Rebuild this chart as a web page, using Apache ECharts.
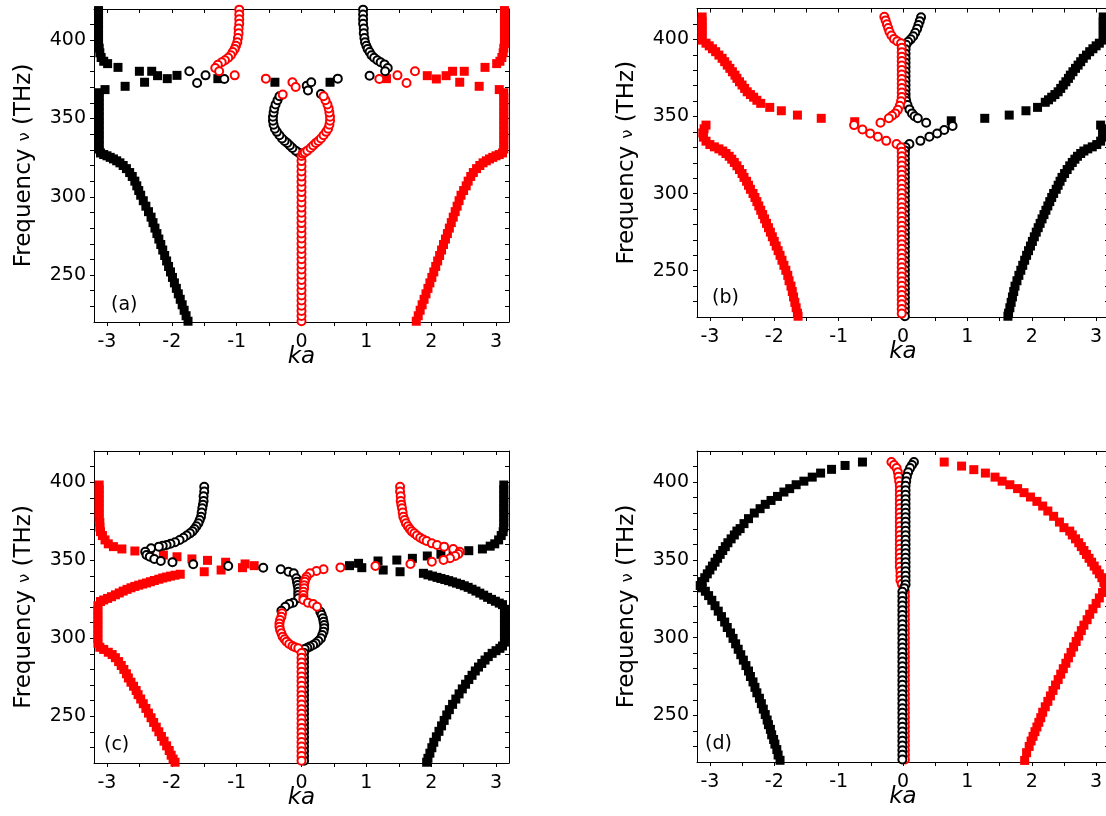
<!DOCTYPE html>
<html>
<head>
<meta charset="utf-8">
<title>Dispersion ka - frequency</title>
<style>
    html, body { margin: 0; padding: 0; background: #fff; }
    #main { width: 1106px; height: 816px; }
</style>
</head>
<body>
<div id="main"></div>
<script src="https://cdn.jsdelivr.net/npm/echarts@6/dist/echarts.min.js"></script>
<script>
// tick positions and labels (same for all four panels)
var xTicks = [-3, -2.5, -2, -1.5, -1, -0.5, 0, 0.5, 1, 1.5, 2, 2.5, 3];
var xLabels = [-3, -2, -1, 0, 1, 2, 3];
var yTicks = [230, 240, 250, 260, 270, 280, 290, 300, 310, 320, 330, 340, 350, 360, 370, 380, 390, 400, 410];
var yLabels = [250, 300, 350, 400];
var panelNames = ['(a)', '(b)', '(c)', '(d)'];

// ---- panel (a) ----  [ka, frequency THz]
var aBlackSq = [
    [-1.75,220.5],[-1.78,224],[-1.81,227.5],[-1.84,231],[-1.87,234.5],[-1.90,238],[-1.93,241.5],[-1.96,245],[-1.99,248.5],[-2.02,252],
    [-2.05,255.5],[-2.08,259],[-2.11,262.5],[-2.14,266],[-2.17,269.5],[-2.20,273],[-2.23,276.5],[-2.26,280],[-2.29,283.5],[-2.32,287],
    [-2.36,290.5],[-2.40,294],[-2.44,297.5],[-2.48,301],[-2.51,304],[-2.54,307],[-2.57,310],[-2.61,313],[-2.65,315.5],[-2.70,318],
    [-2.75,320],[-2.80,321.7],[-2.85,323],[-2.90,324.2],[-2.95,325.2],[-3.00,326.2],[-3.05,327],[-3.10,328],
    [-3.12,330.5],[-3.12,333.5],[-3.12,336.5],[-3.12,339.5],[-3.12,342.5],[-3.12,345.5],[-3.12,348.5],[-3.12,351.5],[-3.12,354.5],
    [-3.12,357.5],[-3.12,360.5],[-3.12,363.5],[-3.12,366.5],
    [-3.03,368.5],[-2.72,370.6],[-2.42,373.2],[-2.83,382.7],[-2.50,380.2],[-2.31,380.2],[-2.22,377.4],[-2.07,375.5],[-1.92,377.6],
    [-1.29,375.5],[-0.41,373.2],[0.44,373.2],
    [-2.99,385.1],[-3.05,386.6],[-3.09,389],[-3.11,392],[-3.12,395],[-3.13,398],[-3.13,401],[-3.13,404],[-3.13,407],[-3.13,410],
    [-3.13,413],[-3.13,416],[-3.13,419]
];
var aRedSq = [
    [1.77,220.5],[1.80,224],[1.83,227.5],[1.86,231],[1.89,234.5],[1.92,238],[1.95,241.5],[1.98,245],[2.01,248.5],[2.04,252],
    [2.07,255.5],[2.10,259],[2.13,262.5],[2.16,266],[2.19,269.5],[2.22,273],[2.25,276.5],[2.28,280],[2.31,283.5],[2.34,287],
    [2.37,290.5],[2.40,294],[2.43,297.5],[2.46,301],[2.50,304],[2.54,307],[2.57,310],[2.61,313],[2.65,315.5],[2.70,318],
    [2.75,320],[2.80,321.7],[2.85,323],[2.90,324.2],[2.95,325.2],[3.00,326.2],[3.05,327],[3.10,328],
    [3.12,330.5],[3.12,333.5],[3.12,336.5],[3.12,339.5],[3.12,342.5],[3.12,345.5],[3.12,348.5],[3.12,351.5],[3.12,354.5],
    [3.12,357.5],[3.12,360.5],[3.12,363.5],[3.12,366.5],
    [3.05,368.5],[2.74,370.6],[2.44,373.2],[2.83,382.7],[2.51,380.2],[2.33,380.2],[2.23,377.4],[2.08,375.3],[1.94,377.4],
    [1.31,375.5],
    [3.01,385.1],[3.06,386.6],[3.09,389],[3.11,392],[3.12,395],[3.13,398],[3.13,401],[3.13,404],[3.13,407],[3.13,410],
    [3.13,413],[3.13,416],[3.13,419]
];
var aBlackCirc = [
    [-0.02,327.6],[-0.05,328.3],[-0.09,329.5],[-0.14,331.2],[-0.18,332.8],[-0.22,334.4],[-0.26,335.6],[-0.30,337.2],[-0.34,339.3],
    [-0.38,341.5],[-0.41,343.5],[-0.43,346],[-0.44,348.6],[-0.44,351.2],[-0.43,353.8],[-0.42,356.4],[-0.40,359],[-0.37,361.7],[-0.34,364.2],
    [0.08,371.0],[0.10,368.0],[0.15,373.2],[0.30,365.7],[0.56,375.5],
    [-1.73,380.2],[-1.61,372.7],[-1.48,377.6],[-1.19,375.3],[1.05,377.4],
    [0.95,419.6],[0.95,416.5],[0.95,413.5],[0.95,410.5],[0.96,407.5],[0.96,404.5],[0.97,401.5],[0.98,398.7],[1.00,396.5],[1.02,394.5],
    [1.05,392.5],[1.08,390.5],[1.12,388.8],[1.17,387.3],[1.22,386],[1.28,384.6],[1.33,382.3],[1.29,380.2]
];
var aRedCirc = [
    [0,220.5],[0,223.8],[0,227.1],[0,230.4],[0,233.7],[0,237.0],[0,240.3],[0,243.6],[0,246.9],[0,250.2],[0,253.5],
    [0,256.8],[0,260.1],[0,263.4],[0,266.7],[0,270.0],[0,273.3],[0,276.6],[0,279.9],[0,283.2],[0,286.5],[0,289.8],
    [0,293.1],[0,296.4],[0,299.7],[0,303.0],[0,306.3],[0,309.6],[0,312.9],[0,316.2],[0,319.5],[0,322.8],[0,326.1],
    [0.02,327.6],[0.05,328.3],[0.09,329.5],[0.14,331.2],[0.18,332.8],[0.22,334.4],[0.26,335.6],[0.30,337.2],[0.34,339.3],
    [0.38,341.5],[0.41,343.5],[0.43,346],[0.44,348.6],[0.44,351.2],[0.43,353.8],[0.42,356.4],[0.40,359],[0.37,361.7],[0.34,364.2],
    [-0.29,365.3],[-0.14,373.2],[-0.09,370.2],[-0.55,375.5],[-1.03,377.6],
    [1.20,375.3],[1.48,377.6],[1.62,372.7],[1.75,380.2],
    [-0.96,419.6],[-0.96,416.5],[-0.96,413.5],[-0.96,410.5],[-0.97,407.5],[-0.97,404.5],[-0.98,401.5],[-0.99,398.7],[-1.01,396.5],
    [-1.03,394.5],[-1.06,392.5],[-1.09,390.5],[-1.13,388.8],[-1.18,387.3],[-1.23,386],[-1.29,384.4],[-1.33,382.3],[-1.27,380.2]
];

// ---- panel (b) ----
var bRedSq = [
    [-3.12,414.5],[-3.12,411.5],[-3.12,408.5],[-3.12,405.5],[-3.12,402.5],[-3.12,399.5],[-3.06,397.5],[-3.01,395.8],[-2.96,393.9],
    [-2.91,392],[-2.86,389.8],[-2.81,387.7],[-2.77,385.5],[-2.73,383.3],[-2.69,381.2],[-2.65,379],[-2.61,376.8],[-2.58,374.7],
    [-2.54,372.5],[-2.50,370.4],[-2.46,368.2],[-2.42,366],[-2.37,364.2],[-2.32,362.5],[-2.27,360.5],[-2.21,358.5],
    [-2.07,355.9],[-1.89,353.7],[-1.64,350.9],[-1.27,348.8],[-0.75,346.6],
    [-3.06,344.4],[-3.09,342],[-3.11,339.3],[-3.10,336.6],[-3.06,334],[-3.00,331.8],[-2.93,330.3],[-2.86,329],[-2.80,327.6],
    [-2.75,326],[-2.70,324.2],[-2.66,322.3],[-2.62,320.2],[-2.58,318],[-2.54,315.6],[-2.50,313],[-2.47,310.5],[-2.43,308],
    [-2.40,305.4],[-2.37,302.8],[-2.33,300.1],[-2.30,297.5],[-2.27,294.8],[-2.24,292],[-2.21,289.2],[-2.18,286.4],[-2.15,283.6],
    [-2.12,280.7],[-2.09,277.9],[-2.06,275],[-2.03,272],[-2.00,269],[-1.97,266],[-1.94,263],[-1.91,260],[-1.88,256.8],
    [-1.85,253.5],[-1.82,250.3],[-1.79,247],[-1.77,243.5],[-1.74,240],[-1.72,236.5],[-1.70,233],[-1.68,229.5],[-1.66,226],
    [-1.64,222.5],[-1.63,220.5]
];
var bBlackSq = [
    [3.11,414.5],[3.11,411.5],[3.11,408.5],[3.11,405.5],[3.11,402.5],[3.11,399.5],[3.05,397.5],[3.00,395.8],[2.95,393.9],
    [2.90,392],[2.85,389.8],[2.80,387.7],[2.76,385.5],[2.72,383.3],[2.68,381.2],[2.64,379],[2.60,376.8],[2.57,374.7],
    [2.53,372.5],[2.49,370.4],[2.45,368.2],[2.41,366],[2.36,364.2],[2.31,362.5],[2.26,360.8],[2.21,359.2],
    [2.09,355.9],[1.91,353.7],[1.65,350.9],[1.27,348.8],[0.75,347.2],
    [3.07,344.4],[3.10,342],[3.11,339.3],[3.10,336.6],[3.07,334],[3.01,331.8],[2.94,330.3],[2.87,329],[2.81,327.6],
    [2.76,326],[2.71,324.2],[2.67,322.3],[2.63,320.2],[2.59,318],[2.55,315.6],[2.51,313],[2.47,310.5],[2.44,308],
    [2.41,305.4],[2.38,302.8],[2.34,300.1],[2.31,297.5],[2.28,294.8],[2.25,292],[2.22,289.2],[2.19,286.4],[2.16,283.6],
    [2.13,280.7],[2.10,277.9],[2.07,275],[2.04,272],[2.01,269],[1.98,266],[1.95,263],[1.92,260],[1.89,256.8],
    [1.86,253.5],[1.83,250.3],[1.80,247],[1.77,243.5],[1.74,240],[1.72,236.5],[1.70,233],[1.68,229.5],[1.66,226],
    [1.64,222.5],[1.63,220.5]
];
var bBlackCirc = [
    [0.28,414.3],[0.26,411.8],[0.24,409.3],[0.22,406.8],[0.19,404.3],[0.16,402],[0.12,400],[0.08,398.4],[0.05,396.5],
    [0.04,393.6],[0.04,390.7],[0.04,387.8],[0.04,384.9],[0.04,382],[0.04,379.1],[0.04,376.2],[0.04,373.3],[0.04,370.4],
    [0.04,367.5],[0.04,364.6],[0.04,362.2],[0.05,360],[0.07,357.4],[0.10,354.6],[0.14,352],[0.18,350.2],[0.23,348.8],[0.36,345.9],
    [0.77,343.8],[0.64,341.2],[0.53,339],[0.41,336.8],[0.27,334.2],[0.10,332.1],[0.04,330],
    [0.03,328.0],[0.03,325.5],[0.03,322.5],[0.03,319.5],[0.03,316.5],[0.03,313.5],[0.03,310.5],[0.03,307.5],[0.03,304.5],
    [0.03,301.5],[0.03,298.5],[0.03,295.5],[0.03,292.5],[0.03,289.5],[0.03,286.5],[0.03,283.5],[0.03,280.5],[0.03,277.5],
    [0.03,274.5],[0.03,271.5],[0.03,268.5],[0.03,265.5],[0.03,262.5],[0.03,259.5],[0.03,256.5],[0.03,253.5],[0.03,250.5],
    [0.03,247.5],[0.03,244.5],[0.03,241.5],[0.03,238.5],[0.03,235.5],[0.03,232.5],[0.03,229.5],[0.03,226.5],[0.03,223.5],[0.03,220.5]
];
var bRedCirc = [
    [-0.29,414.7],[-0.27,412.3],[-0.25,409.8],[-0.23,407.3],[-0.21,404.9],[-0.18,402.5],[-0.14,400.3],[-0.09,398.8],[-0.03,397.5],
    [-0.02,394.6],[-0.02,391.7],[-0.02,388.8],[-0.02,385.9],[-0.02,383],[-0.02,380.1],[-0.02,377.2],[-0.02,374.3],[-0.02,371.4],
    [-0.02,368.5],[-0.02,365.6],[-0.02,362.7],[-0.03,359.8],[-0.05,357],[-0.08,354.3],[-0.12,352],[-0.17,350.5],[-0.22,348.9],[-0.35,345.9],
    [-0.76,344.4],[-0.63,341.6],[-0.51,339],[-0.39,336.8],[-0.26,334.2],[-0.10,332.1],[-0.03,330.1],
    [-0.02,327.2],[-0.02,324.2],[-0.02,321.2],[-0.02,318.2],[-0.02,315.2],[-0.02,312.2],[-0.02,309.2],[-0.02,306.2],[-0.02,303.2],
    [-0.02,300.2],[-0.02,297.2],[-0.02,294.2],[-0.02,291.2],[-0.02,288.2],[-0.02,285.2],[-0.02,282.2],[-0.02,279.2],[-0.02,276.2],
    [-0.02,273.2],[-0.02,270.2],[-0.02,267.2],[-0.02,264.2],[-0.02,261.2],[-0.02,258.2],[-0.02,255.2],[-0.02,252.2],[-0.02,249.2],
    [-0.02,246.2],[-0.02,243.2],[-0.02,240.2],[-0.02,237.2],[-0.02,234.2],[-0.02,231.2],[-0.02,228.2],[-0.02,225.2],[-0.02,222.2]
];

// ---- panel (c) ----
var cRedSq = [
    [-3.12,398.2],[-3.12,395.2],[-3.12,392.2],[-3.12,389.2],[-3.12,386.2],[-3.12,383.2],[-3.12,380.2],[-3.12,377.2],[-3.11,374.2],
    [-3.11,371.2],[-3.10,368.3],[-3.07,365.8],[-3.03,363],[-2.98,360.5],[-2.90,358.7],[-2.77,357.2],
    [-2.57,355.9],[-2.34,354.8],[-2.13,353.3],[-1.92,352.2],[-1.69,350.8],[-1.45,349.9],[-1.17,348.7],[-0.87,347.6],[-0.73,346.5],
    [-1.50,342.6],[-1.24,343.7],[-0.91,345.2],
    [-1.87,341.0],[-1.95,340.4],[-2.02,339.8],[-2.08,339.2],[-2.14,338.6],[-2.20,337.8],[-2.27,337],[-2.33,336.2],[-2.39,335.4],
    [-2.45,334.7],[-2.51,334],[-2.57,333.2],[-2.63,332.3],[-2.69,331.3],[-2.75,330.2],[-2.81,329],[-2.87,327.8],[-2.93,326.6],
    [-2.99,325.5],[-3.05,324.5],[-3.10,323.5],
    [-3.14,320.8],[-3.14,317.8],[-3.14,314.8],[-3.14,311.8],[-3.14,308.8],[-3.14,305.8],[-3.14,302.8],[-3.14,299.8],[-3.14,296.8],
    [-3.11,294.2],[-3.05,292.8],[-2.98,291],[-2.92,289.5],[-2.87,287.5],[-2.82,285],[-2.78,282.5],[-2.74,280],[-2.70,277.2],
    [-2.67,274.5],[-2.63,271.8],[-2.59,269.2],[-2.55,266.5],[-2.52,263.8],[-2.48,261],[-2.44,258],[-2.40,255],[-2.36,252],
    [-2.32,249],[-2.28,246],[-2.24,243],[-2.20,240],[-2.16,237],[-2.12,234],[-2.08,231],[-2.04,228],[-2.01,225],[-1.98,222.5],[-1.95,220.5]
];
var cBlackSq = [
    [3.12,398.2],[3.12,395.2],[3.12,392.2],[3.12,389.2],[3.12,386.2],[3.12,383.2],[3.12,380.2],[3.12,377.2],[3.12,374.2],
    [3.12,371.2],[3.11,368.3],[3.08,365.8],[3.04,363],[2.98,360.5],[2.91,359],[2.79,357.2],
    [2.58,356.1],[2.34,354.8],[2.15,353.8],[1.94,352.7],[1.71,351.2],[1.47,350.1],[1.18,349.5],[0.88,348.0],[0.74,346.5],
    [0.93,345.2],[1.26,343.7],[1.52,342.6],
    [1.88,341.6],[1.95,340.6],[2.02,339.8],[2.09,339],[2.15,338.3],[2.21,337.6],[2.27,336.9],[2.33,336.1],[2.39,335.3],
    [2.45,334.5],[2.51,333.6],[2.57,332.6],[2.63,331.4],[2.69,330.2],[2.75,328.9],[2.81,327.6],[2.87,326.2],[2.93,324.9],
    [2.99,323.7],[3.05,322.5],[3.10,321.5],
    [3.13,318.5],[3.13,315.5],[3.13,312.5],[3.13,309.5],[3.13,306.5],[3.13,303.5],[3.13,300.5],[3.13,297.5],[3.10,295],
    [3.06,293.5],[3.00,292],[2.94,290.3],[2.88,288.2],[2.83,286],[2.78,283.8],[2.73,281.5],[2.68,279],[2.63,276.2],
    [2.58,273.5],[2.53,270.5],[2.48,267.5],[2.43,264.3],[2.38,261],[2.33,257.6],[2.28,254.2],[2.24,250.8],[2.20,247.3],
    [2.16,243.8],[2.12,240.3],[2.08,236.8],[2.04,233.3],[2.01,229.8],[1.98,226.3],[1.95,223],[1.93,220.5]
];
var cBlackCirc = [
    [-1.50,397.1],[-1.50,394],[-1.51,391],[-1.51,388],[-1.52,385.5],[-1.53,383.3],[-1.54,380.5],[-1.55,377.9],[-1.57,375.8],
    [-1.59,373.7],[-1.62,371.8],[-1.65,370.0],[-1.68,368.5],[-1.72,367.2],[-1.77,365.8],[-1.82,364.4],[-1.88,363],[-1.95,361.5],
    [-2.02,360.5],[-2.08,359.7],[-2.14,359.2],[-2.20,358.7],[-2.32,357.6],[-2.41,355.4],[-2.39,353.3],[-2.34,352.2],[-2.27,350.8],
    [-2.17,349.5],[-1.99,348.7],[-1.67,347.4],[-1.13,346.3],[-0.59,345.2],[-0.32,344.2],[-0.20,342.6],[-0.12,341.6],
    [-0.08,338.4],[-0.07,336.2],[-0.06,334.1],[-0.05,332],[-0.05,329.8],[-0.05,327.7],[-0.05,325.6],
    [-0.13,322.8],[-0.19,321.9],[-0.25,320.2],[-0.31,317.6],
    [0.29,317.0],[0.31,315],[0.33,312.8],[0.34,310.6],[0.35,308.5],[0.35,306.3],[0.34,304.2],[0.32,302],[0.30,299.9],
    [0.26,298.2],[0.22,296.7],[0.18,295.6],[0.13,294.6],[0.09,293.8],[0.05,293.1],
    [0.04,290.5],[0.04,287.5],[0.04,284.5],[0.04,281.5],[0.04,278.5],[0.04,275.5],[0.04,272.5],[0.04,269.5],[0.04,266.5],
    [0.04,263.5],[0.04,260.5],[0.04,257.5],[0.04,254.5],[0.04,251.5],[0.04,248.5],[0.04,245.5],[0.04,242.5],[0.04,239.5],
    [0.04,236.5],[0.04,233.5],[0.04,230.5],[0.04,227.5],[0.04,224.5],[0.04,221.5]
];
var cRedCirc = [
    [0.60,345.4],[0.34,344.2],[0.23,343.1],[0.13,341.6],
    [0.08,339.4],[0.06,337.8],[0.05,336.2],[0.04,334],[0.04,332.0],[0.03,329.8],[0.03,327.7],[0.03,325.6],[0.03,324.5],
    [0.10,322.8],[0.18,321.9],[0.24,320.2],
    [-0.30,316],[-0.31,313.8],[-0.33,311.6],[-0.34,309.5],[-0.34,307.4],[-0.33,305.3],[-0.31,303.1],[-0.29,301.0],[-0.26,299.3],
    [-0.23,297.8],[-0.19,296.3],[-0.14,295.0],[-0.10,294.2],[-0.05,293.5],
    [0,290.5],[0,287.5],[0,284.5],[0,281.5],[0,278.5],[0,275.5],[0,272.5],[0,269.5],[0,266.5],[0,263.5],[0,260.5],[0,257.5],
    [0,254.5],[0,251.5],[0,248.5],[0,245.5],[0,242.5],[0,239.5],[0,236.5],[0,233.5],[0,230.5],[0,227.5],[0,224.5],[0,221.5],
    [1.52,397.1],[1.52,394],[1.53,391],[1.53,388],[1.54,385.5],[1.55,383.3],[1.56,380.5],[1.57,377.9],[1.59,375.8],[1.61,373.7],
    [1.64,371.8],[1.67,370.0],[1.70,368.5],[1.74,367.2],[1.78,365.8],[1.83,364.4],[1.88,363.3],[1.93,362.3],[2.01,360.8],
    [2.09,359.7],[2.20,358.7],[2.34,357.2],[2.44,355.4],[2.42,354.0],[2.37,352.7],[2.29,351.2],[2.19,350.1],[2.01,349.0],
    [1.68,347.6],[1.14,346.3]
];

// ---- panel (d) ----
var dBlackSq = [
    [-1.91,221.1],[-1.94,224.5],[-1.96,228],[-1.99,231.5],[-2.01,234.5],[-2.04,237.5],[-2.06,241],[-2.09,244],[-2.11,247],
    [-2.14,250.5],[-2.17,254],[-2.20,257.5],[-2.23,261],[-2.27,264.5],[-2.30,268],[-2.33,271.5],[-2.37,275],[-2.40,278.5],
    [-2.44,282],[-2.48,285.5],[-2.52,289],[-2.56,292.5],[-2.60,296],[-2.64,299.5],[-2.68,303],[-2.73,306.5],[-2.77,310],
    [-2.82,313.5],[-2.87,317],[-2.92,320.5],[-2.97,324],[-3.02,327],[-3.07,329.8],[-3.12,332],[-3.15,333.5],
    [-3.12,336],[-3.08,338.5],[-3.04,341],[-3.00,343.5],[-2.96,346],[-2.92,348.5],[-2.88,351],[-2.84,353.5],[-2.80,356],
    [-2.76,358.5],[-2.72,361],[-2.67,363.5],[-2.62,366],[-2.58,368.5],[-2.53,370.1],[-2.47,373.3],[-2.40,376.5],[-2.31,380.1],
    [-2.22,382.9],[-2.14,385.7],[-2.05,388.2],[-1.95,390.8],[-1.85,393.6],[-1.76,395.8],[-1.66,398.3],[-1.54,400.6],
    [-1.41,403.2],[-1.28,405.8],[-1.11,408.2],[-0.90,410.7],[-0.63,412.9]
];
var dRedSq = [
    [1.89,221],[1.92,226],[1.96,230],[1.99,233.5],[2.02,236.5],[2.05,239.5],[2.08,242.5],[2.11,245.5],[2.14,248.5],[2.17,252],
    [2.21,255.5],[2.25,259],[2.29,262.5],[2.33,266],[2.37,269.5],[2.41,273],[2.45,276.5],[2.49,280],[2.53,283.5],[2.57,287],
    [2.61,290.5],[2.65,294],[2.69,297.5],[2.73,301],[2.77,304.5],[2.81,308],[2.86,311.5],[2.90,315],[2.95,318.5],[3.00,322],
    [3.05,325.5],[3.10,329],[3.14,332.5],
    [3.12,335.5],[3.09,338.5],[3.05,341],[3.01,343.5],[2.97,346],[2.93,348.5],[2.89,351],[2.85,353.5],[2.81,356],[2.77,358.5],
    [2.73,361],[2.68,363.5],[2.63,366],[2.59,368.5],[2.50,370.7],[2.43,374.3],[2.34,378.0],[2.25,381.4],[2.17,384.6],[2.08,387.6],
    [1.98,390.4],[1.88,393.2],[1.78,395.8],[1.66,398.3],[1.54,400.6],[1.43,403.2],[1.28,405.8],[1.10,408.0],[0.91,410.3],[0.64,412.9]
];
var dRedCirc = [
    [-0.18,412.9],[-0.14,411],[-0.10,409],[-0.08,406.4],[-0.07,403.5],[-0.06,400.6],
    [-0.05,397.7],[-0.05,394.8],[-0.05,391.9],[-0.05,389],[-0.05,386.1],[-0.05,383.2],[-0.05,380.3],[-0.05,377.4],[-0.05,374.5],
    [-0.05,371.6],[-0.05,368.7],[-0.05,365.8],[-0.05,362.9],[-0.05,360],[-0.05,357.1],[-0.05,354.2],[-0.05,351.3],[-0.05,348.4],
    [-0.05,345.5],[-0.04,342.6],[-0.04,339.7],[-0.04,336.9],[-0.02,334.5],[0.01,332],[0.03,329.5],
    [0.03,326.6],[0.03,323.6],[0.03,320.6],[0.03,317.6],[0.03,314.6],[0.03,311.6],[0.03,308.6],[0.03,305.6],[0.03,302.6],
    [0.03,299.6],[0.03,296.6],[0.03,293.6],[0.03,290.6],[0.03,287.6],[0.03,284.6],[0.03,281.6],[0.03,278.6],[0.03,275.6],
    [0.03,272.6],[0.03,269.6],[0.03,266.6],[0.03,263.6],[0.03,260.6],[0.03,257.6],[0.03,254.6],[0.03,251.6],[0.03,248.6],
    [0.03,245.6],[0.03,242.6],[0.03,239.6],[0.03,236.6],[0.03,233.6],[0.03,230.6],[0.03,227.6],[0.03,224.6],[0.03,221.6]
];
var dBlackCirc = [
    [0.17,412.9],[0.14,411],[0.11,409],[0.08,406.4],[0.06,403.5],[0.05,400.6],
    [0.04,397.7],[0.04,394.8],[0.04,391.9],[0.04,389],[0.04,386.1],[0.04,383.2],[0.04,380.3],[0.04,377.4],[0.04,374.5],
    [0.04,371.6],[0.04,368.7],[0.04,365.8],[0.04,362.9],[0.04,360],[0.04,357.1],[0.04,354.2],[0.04,351.3],[0.04,348.4],
    [0.04,345.5],[0.04,342.6],[0.04,339.7],[0.04,336.9],[0.04,334.2],[0.02,331.8],[-0.01,329.5],
    [-0.01,326.6],[-0.01,323.6],[-0.01,320.6],[-0.01,317.6],[-0.01,314.6],[-0.01,311.6],[-0.01,308.6],[-0.01,305.6],[-0.01,302.6],
    [-0.01,299.6],[-0.01,296.6],[-0.01,293.6],[-0.01,290.6],[-0.01,287.6],[-0.01,284.6],[-0.01,281.6],[-0.01,278.6],[-0.01,275.6],
    [-0.01,272.6],[-0.01,269.6],[-0.01,266.6],[-0.01,263.6],[-0.01,260.6],[-0.01,257.6],[-0.01,254.6],[-0.01,251.6],[-0.01,248.6],
    [-0.01,245.6],[-0.01,242.6],[-0.01,239.6],[-0.01,236.6],[-0.01,233.6],[-0.01,230.6],[-0.01,227.6],[-0.01,224.6],[-0.01,221.6]
];

var FONT = 'DejaVu Sans';
var RED = '#ff0000', BLACK = '#000000';

var myChart;
window.onload = function () {
    myChart = echarts.init(document.getElementById('main'), null, {renderer: 'canvas'});

    // plot boxes, in page pixels
    var grids = [
        {left: 94, top: 9, width: 415, height: 313},
        {left: 697, top: 8.5, width: 412, height: 308.5},
        {left: 94, top: 451, width: 415, height: 312},
        {left: 697, top: 451, width: 412, height: 311}
    ];
    var letterPos = [[111, 296], [712, 289], [104, 736], [705, 735]];

    var xAxes = [], yAxes = [], graphics = [];
    for (var i = 0; i < 4; i++) {
        grids[i].outerBoundsMode = 'none';
        grids[i].containLabel = false;
        var line = {onZero: false, lineStyle: {color: BLACK, width: 1}};
        xAxes.push({
            gridIndex: i, type: 'value', min: -3.2, max: 3.2, position: 'bottom',
            name: 'ka', nameLocation: 'middle', nameGap: 24, nameMoveOverlap: false,
            nameTextStyle: {fontFamily: FONT, fontStyle: 'italic', fontSize: 23, color: BLACK},
            axisLine: line,
            axisTick: {customValues: xTicks, length: 4, lineStyle: {color: BLACK}},
            axisLabel: {customValues: xLabels, margin: 11, color: BLACK, fontSize: 19, fontFamily: FONT},
            splitLine: {show: false}
        });
        xAxes.push({
            gridIndex: i, type: 'value', min: -3.2, max: 3.2, position: 'top',
            axisLine: line,
            axisTick: {customValues: xTicks, inside: true, length: 4, lineStyle: {color: BLACK}},
            axisLabel: {show: false}, splitLine: {show: false}
        });
        yAxes.push({
            gridIndex: i, type: 'value', min: 220, max: 420, position: 'left',
            name: '{a|Frequency }{b|\u03bd}{a| (THz)}', nameLocation: 'middle', nameGap: 58, nameMoveOverlap: false,
            nameTextStyle: {
                fontFamily: FONT, fontSize: 23, color: BLACK,
                rich: {
                    a: {fontFamily: FONT, fontSize: 23, color: BLACK},
                    b: {fontFamily: FONT, fontSize: 16, color: BLACK}
                }
            },
            axisLine: line,
            axisTick: {customValues: yTicks, length: 4, lineStyle: {color: BLACK}},
            axisLabel: {customValues: yLabels, margin: 8, color: BLACK, fontSize: 19, fontFamily: FONT},
            splitLine: {show: false}
        });
        yAxes.push({
            gridIndex: i, type: 'value', min: 220, max: 420, position: 'right',
            axisLine: line,
            axisTick: {customValues: yTicks, inside: true, length: 4, lineStyle: {color: BLACK}},
            axisLabel: {show: false}, splitLine: {show: false}
        });
        graphics.push({
            type: 'text', left: letterPos[i][0], top: letterPos[i][1], silent: true,
            style: {text: panelNames[i], font: '19px "' + FONT + '"', fill: BLACK}
        });
    }

    function squares(data, color, g) {
        return {type: 'scatter', xAxisIndex: 2 * g, yAxisIndex: 2 * g, data: data, silent: true,
            symbol: 'rect', symbolSize: 9, itemStyle: {color: color, opacity: 1}};
    }
    function circles(data, color, g) {
        return {type: 'scatter', xAxisIndex: 2 * g, yAxisIndex: 2 * g, data: data, silent: true,
            symbol: 'emptyCircle', symbolSize: 8,
            itemStyle: {color: color, borderColor: color, borderWidth: 1, opacity: 1}};
    }

    var series = [
        squares(aBlackSq, BLACK, 0), squares(aRedSq, RED, 0), circles(aBlackCirc, BLACK, 0), circles(aRedCirc, RED, 0),
        squares(bRedSq, RED, 1), squares(bBlackSq, BLACK, 1), circles(bBlackCirc, BLACK, 1), circles(bRedCirc, RED, 1),
        squares(cRedSq, RED, 2), squares(cBlackSq, BLACK, 2), circles(cBlackCirc, BLACK, 2), circles(cRedCirc, RED, 2),
        squares(dBlackSq, BLACK, 3), squares(dRedSq, RED, 3), circles(dRedCirc, RED, 3), circles(dBlackCirc, BLACK, 3)
    ];

    myChart.setOption({
        backgroundColor: '#ffffff',
        animation: false,
        grid: grids,
        xAxis: xAxes,
        yAxis: yAxes,
        series: series,
        graphic: graphics
    });
};
</script>
</body>
</html>
